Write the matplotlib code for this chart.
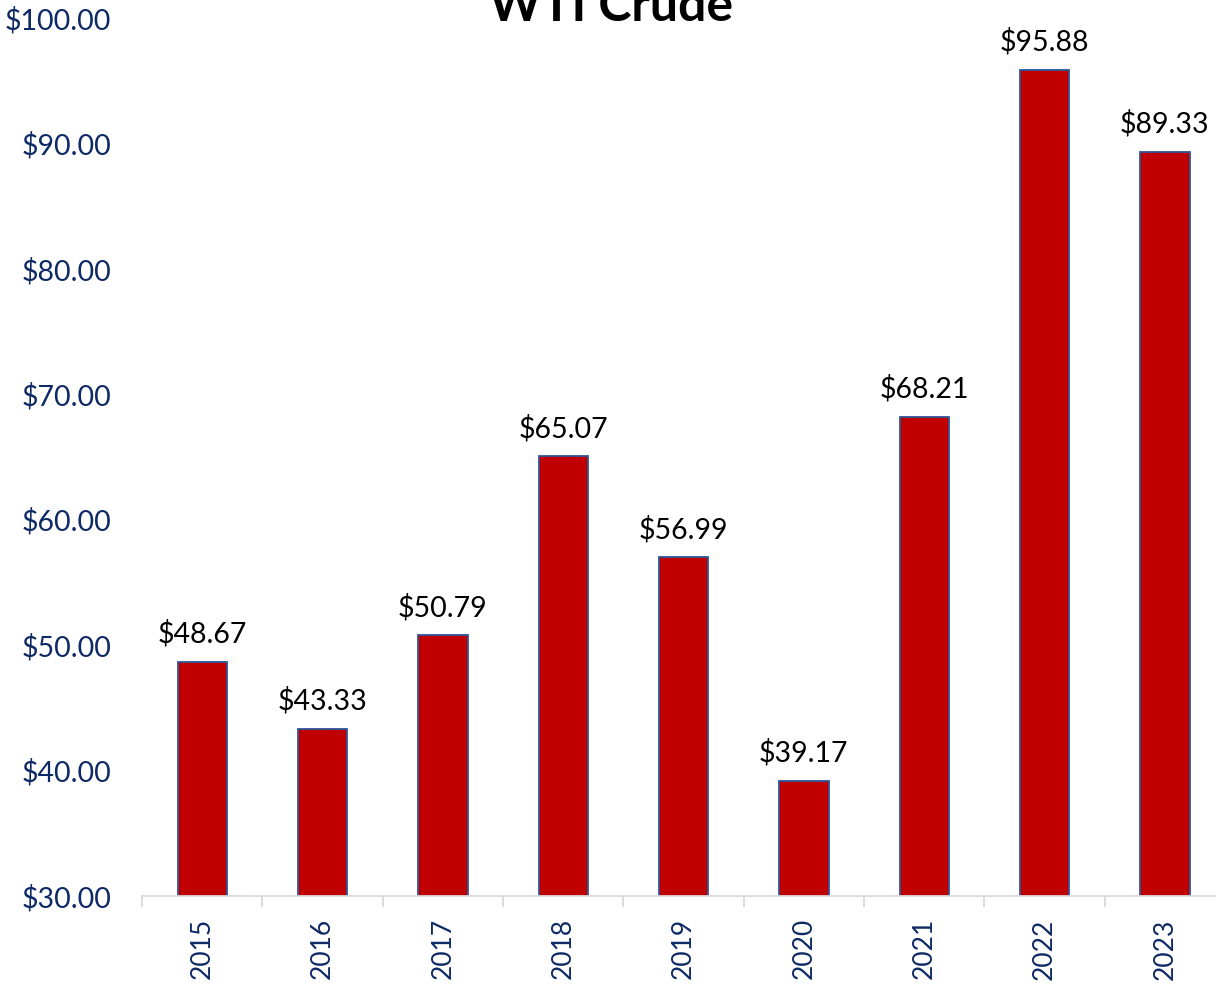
import matplotlib.pyplot as plt
from matplotlib.ticker import FuncFormatter, MultipleLocator
import numpy as np

plt.rcParams['font.family'] = ['Lato', 'DejaVu Sans']

years = ['2015', '2016', '2017', '2018', '2019', '2020', '2021', '2022', '2023']
prices = [48.67, 43.33, 50.79, 65.07, 56.99, 39.17, 68.21, 95.88, 89.33]

navy = '#0d2a66'
bar_red = '#c00000'
edge_blue = '#2f5597'

fig = plt.figure(figsize=(12.16, 9.85), dpi=100)
ax = fig.add_axes([0.1168, 0.0904, 0.8906, 0.8914])

x = np.arange(len(years))
bars = ax.bar(x, prices, width=0.41, bottom=0, color=bar_red,
              edgecolor=edge_blue, linewidth=1.3, zorder=2)

for xi, v in zip(x, prices):
    ax.annotate(f'${v:.2f}', (xi, v), xytext=(0, 19), textcoords='offset pixels',
                ha='center', va='baseline', fontsize=20.5, color='black')

ax.set_ylim(30, 100)
ax.set_xlim(-0.5, len(years) - 0.5)
ax.yaxis.set_major_locator(MultipleLocator(10))
ax.yaxis.set_major_formatter(FuncFormatter(lambda v, p: f'${v:.2f}'))
ax.tick_params(axis='y', length=0, pad=22, labelsize=20.5, labelcolor=navy)

# year labels sit at bar centres, tick marks sit between categories
ax.set_xticks(x)
ax.set_xticklabels(years, rotation=90)
ax.set_xticks(np.arange(len(years) + 1) - 0.5, minor=True)
ax.tick_params(axis='x', which='major', length=0, pad=16, labelsize=19, labelcolor=navy)
ax.tick_params(axis='x', which='minor', length=8, width=1.3, color='#d9d9d9')

for side in ['top', 'right', 'left']:
    ax.spines[side].set_visible(False)
ax.spines['bottom'].set_color('#d9d9d9')
ax.spines['bottom'].set_linewidth(1.3)

fig.text(0.5025, 1 - 21 / 985, 'WTI Crude', ha='center', va='baseline',
         fontsize=36, fontweight='bold', color='black')

fig.savefig('out.png', dpi=100)
